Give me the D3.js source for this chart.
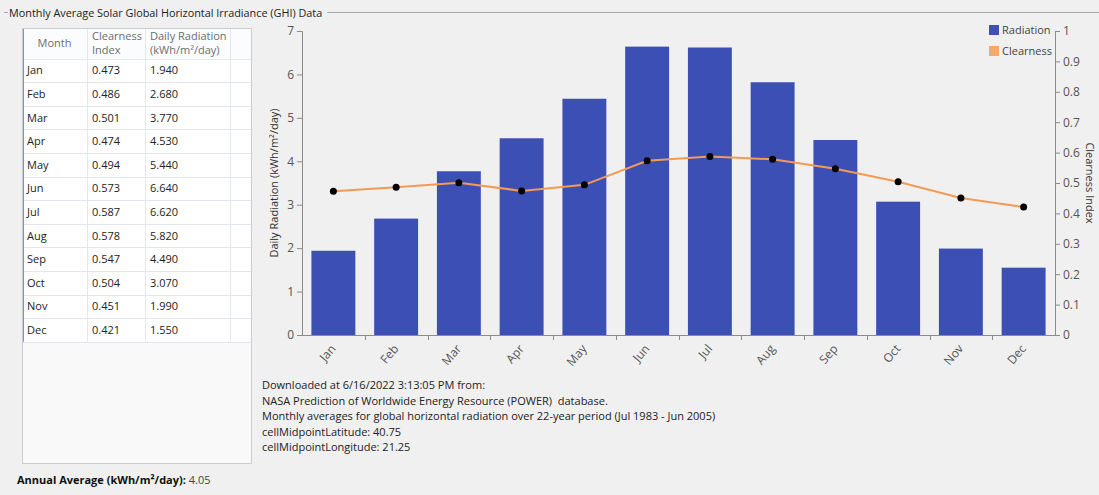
<!DOCTYPE html>
<html><head><meta charset="utf-8">
<script src="https://cdn.jsdelivr.net/npm/d3@7"></script>
<style>
html,body{margin:0;padding:0;background:#f0f0f0;}
svg{display:block;font-family:"Open Sans","Noto Sans",sans-serif;}
</style></head>
<body><svg id="c" width="1099" height="495"></svg>
<script>
const months = ["Jan","Feb","Mar","Apr","May","Jun","Jul","Aug","Sep","Oct","Nov","Dec"];
const clearness = [0.473,0.486,0.501,0.474,0.494,0.573,0.587,0.578,0.547,0.504,0.451,0.421];
const radiation = [1.94,2.68,3.77,4.53,5.44,6.64,6.62,5.82,4.49,3.07,1.99,1.55];
const leftTicks = [0,1,2,3,4,5,6,7];
const rightTicks = [0,0.1,0.2,0.3,0.4,0.5,0.6,0.7,0.8,0.9,1];
const infoLines = ["Downloaded at 6/16/2022 3:13:05 PM from:",
  "NASA Prediction of Worldwide Energy Resource (POWER)  database.",
  "Monthly averages for global horizontal radiation over 22-year period (Jul 1983 - Jun 2005)",
  "cellMidpointLatitude: 40.75",
  "cellMidpointLongitude: 21.25"];
const annualAverage = "4.05";

const svg = d3.select("#c");
const FS = 11;

svg.append("line").attr("x1",4).attr("x2",8).attr("y1",12.5).attr("y2",12.5).attr("stroke","#a8a8a8");
const title = svg.append("text").attr("x",9).attr("y",17).attr("font-size",10.85).attr("fill","#222")
  .text("Monthly Average Solar Global Horizontal Irradiance (GHI) Data");
const tw = title.node().getComputedTextLength();
svg.append("line").attr("x1",9+tw+5).attr("x2",1099).attr("y1",12.5).attr("y2",12.5).attr("stroke","#a8a8a8");

const tx = 22, ty = 28, tW = 229, headH = 30.5, rowH = 23.6, tBottom = 463;
const colX = [22, 87, 145, 230, 251];
svg.append("rect").attr("x",tx+0.5).attr("y",ty+0.5).attr("width",tW).attr("height",tBottom-ty)
  .attr("fill","#f9f9f9").attr("stroke","#c9ccd1");
svg.append("rect").attr("x",tx+1).attr("y",ty+1).attr("width",tW-1).attr("height",headH+rowH*12-1)
  .attr("fill","#ffffff");
svg.append("rect").attr("x",tx+1).attr("y",ty+1).attr("width",tW-1).attr("height",headH-1).attr("fill","#fbfcfd");
const rowY = i => ty + headH + i*rowH;
svg.selectAll(".hl").data(d3.range(13)).join("line")
  .attr("x1",tx+1).attr("x2",tx+tW).attr("y1",i=>Math.round(rowY(i))+0.5).attr("y2",i=>Math.round(rowY(i))+0.5)
  .attr("stroke","#e3e8ef");
svg.selectAll(".vl").data(colX.slice(1,4)).join("line")
  .attr("x1",d=>d+0.5).attr("x2",d=>d+0.5).attr("y1",ty+1).attr("y2",rowY(12))
  .attr("stroke","#e3e8ef");
svg.append("line").attr("x1",tx+1.5).attr("x2",tx+1.5).attr("y1",ty+1).attr("y2",rowY(12)).attr("stroke","#8a93a3");
const hdr = svg.append("g").attr("font-size",FS).attr("fill","#6d6d6d");
hdr.append("text").attr("x",(colX[0]+colX[1])/2).attr("y",ty+19).attr("text-anchor","middle").text("Month");
hdr.append("text").attr("x",colX[1]+5).attr("y",ty+12).text("Clearness");
hdr.append("text").attr("x",colX[1]+5).attr("y",ty+26).text("Index");
hdr.append("text").attr("x",colX[2]+5).attr("y",ty+12).text("Daily Radiation");
hdr.append("text").attr("x",colX[2]+5).attr("y",ty+26).text("(kWh/m²/day)");
const rows = svg.append("g").attr("font-size",FS).attr("fill","#222");
months.forEach((m,i)=>{
  const y = rowY(i)+rowH/2+4;
  rows.append("text").attr("x",colX[0]+5).attr("y",y).text(m);
  rows.append("text").attr("x",colX[1]+5).attr("y",y).text(clearness[i].toFixed(3));
  rows.append("text").attr("x",colX[2]+5).attr("y",y).text(radiation[i].toFixed(3));
});
const aa = svg.append("text").attr("x",17).attr("y",484).attr("font-size",FS).attr("fill","#111");
aa.append("tspan").attr("font-weight","bold").text("Annual Average (kWh/m²/day): ");
aa.append("tspan").attr("fill","#444").text(annualAverage);

const L = 302, R = 1055, T = 31, B = 335;
const x = d3.scaleBand().domain(months).range([L,R]).paddingInner(0.3).paddingOuter(0.15);
const xb = d3.scaleBand().domain(months).range([L,R]);
const yL = d3.scaleLinear().domain([0,7]).range([B,T]);
const yR = d3.scaleLinear().domain([0,1]).range([B,T]);

svg.append("g").selectAll("rect").data(radiation).join("rect")
  .attr("x",(d,i)=>x(months[i])).attr("width",x.bandwidth())
  .attr("y",d=>yL(d)).attr("height",d=>B-yL(d)).attr("fill","#3c4fb4");

const axisStyle = g => {
  g.selectAll("path,line").attr("stroke","#8c8c8c");
  g.selectAll("text").attr("fill","#555").attr("font-size",12).attr("font-family","'Open Sans','Noto Sans',sans-serif");
};
svg.append("g").attr("transform",`translate(${L},0)`)
  .call(d3.axisLeft(yL).tickValues(leftTicks).tickFormat(d3.format("d")).tickSize(5).tickSizeOuter(5))
  .call(axisStyle);
svg.append("g").attr("transform",`translate(${R},0)`)
  .call(d3.axisRight(yR).tickValues(rightTicks).tickFormat(d=>d3.format("~g")(d)).tickSize(5).tickSizeOuter(5))
  .call(axisStyle);
const xg = svg.append("g");
xg.append("line").attr("x1",L).attr("x2",R).attr("y1",B+0.5).attr("y2",B+0.5).attr("stroke","#8c8c8c");
xg.selectAll(".xt").data(months.slice(1)).join("line")
  .attr("x1",d=>Math.round(xb(d))+0.5).attr("x2",d=>Math.round(xb(d))+0.5).attr("y1",B).attr("y2",B+5).attr("stroke","#8c8c8c");
xg.selectAll(".xl").data(months).join("text")
  .attr("transform",d=>`translate(${xb(d)+xb.bandwidth()/2+3},${B+14}) rotate(-50)`)
  .attr("text-anchor","end").attr("font-size",12).attr("fill","#555").text(d=>d);

const line = d3.line().x((d,i)=>xb(months[i])+xb.bandwidth()/2).y(d=>yR(d));
svg.append("path").datum(clearness).attr("d",line).attr("fill","none").attr("stroke","#f39a55").attr("stroke-width",2);
svg.append("g").selectAll("circle").data(clearness).join("circle")
  .attr("cx",(d,i)=>xb(months[i])+xb.bandwidth()/2).attr("cy",d=>yR(d)).attr("r",3.5).attr("fill","#000");

svg.append("text").attr("transform",`translate(278,${(T+B)/2}) rotate(-90)`).attr("text-anchor","middle")
  .attr("font-size",FS).attr("fill","#333").text("Daily Radiation (kWh/m²/day)");
svg.append("text").attr("transform",`translate(1086,${(T+B)/2}) rotate(90)`).attr("text-anchor","middle")
  .attr("font-size",FS).attr("fill","#333").text("Clearness Index");

const legend = [{name:"Radiation",color:"#3f51b5"},{name:"Clearness",color:"#f8a868"}];
const lg = svg.append("g");
legend.forEach((d,i)=>{
  lg.append("rect").attr("x",989).attr("y",25+i*21).attr("width",10).attr("height",10).attr("fill",d.color);
  lg.append("text").attr("x",1002).attr("y",34+i*21).attr("font-size",FS).attr("fill","#444").text(d.name);
});

svg.append("g").selectAll("text").data(infoLines).join("text")
  .attr("x",262).attr("y",(d,i)=>389+i*15.5).attr("font-size",FS).attr("fill","#222")
  .attr("xml:space","preserve").style("white-space","pre").text(d=>d);
</script></body></html>
